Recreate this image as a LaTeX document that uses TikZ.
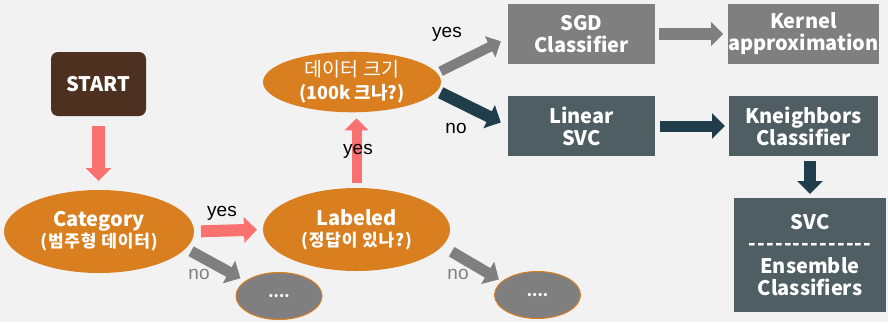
\documentclass[tikz,border=0pt]{standalone}
\usepackage{fontspec}
\setmainfont{Noto Sans CJK KR}
\newfontfamily\yesnofont{Liberation Sans}
\usetikzlibrary{arrows.meta,shapes.geometric}

\definecolor{canvas}{RGB}{242,242,242}
\definecolor{startbrown}{RGB}{78,48,32}
\definecolor{pinkarrow}{RGB}{250,114,112}
\definecolor{ochre}{RGB}{217,127,32}
\definecolor{midgray}{RGB}{127,127,127}
\definecolor{slate}{RGB}{79,94,99}
\definecolor{navy}{RGB}{31,61,75}

% a row of separate hyphens (kept apart so no dash ligature forms)
\newcommand\onehyphen{\mbox{-}\kern1.2pt}
\newcommand\hyphenrow{\onehyphen\onehyphen\onehyphen\onehyphen\onehyphen\onehyphen\onehyphen\onehyphen\onehyphen\onehyphen\onehyphen\onehyphen\onehyphen\mbox{-}}
% Korean sub-lines, slightly spaced out
\newcommand\koline[1]{{\fontsize{17}{20}\selectfont\addfontfeature{LetterSpace=5}#1}}

\begin{document}
\begin{tikzpicture}[x=1pt,y=-1pt,
  every node/.style={inner sep=0pt, outer sep=0pt},
  engfont/.style={font=\bfseries\fontsize{20}{22}\selectfont},
  startbox/.style={rectangle, rounded corners=7pt, fill=startbrown, text=white,
    minimum width=95pt, minimum height=64pt, engfont},
  decision/.style={ellipse, fill=ochre, text=white, align=center, engfont},
  dotsnode/.style={ellipse, fill=midgray, draw=ochre, line width=1pt, text=white,
    minimum width=86pt, minimum height=47pt, font=\bfseries\fontsize{15}{15}\selectfont},
  algobox/.style={rectangle, text=white, align=center, engfont,
    minimum width=147pt, minimum height=60pt},
  yesno/.style={font=\yesnofont\fontsize{19}{19}\selectfont},
  blockarrow/.style={line width=#1, -{Triangle[length=13pt,width=25pt]}},
  blockarrow/.default=12pt
]
\fill[canvas] (0,0) rectangle (888,322);
\useasboundingbox (0,0) rectangle (888,322);

% start and decisions
\node[startbox] (start) at (98.5,84) {START};
\node[decision, minimum width=190pt, minimum height=83pt] (cat) at (99,231.5)
  {Category\\[-1pt]\koline{(범주형 데이터)}};
\node[decision, minimum width=187pt, minimum height=83pt] (lab) at (356.5,229.5)
  {Labeled\\[-1pt]\koline{(정답이 있나?)}};
\node[decision, minimum width=178pt, minimum height=58pt] (size) at (352,82)
  {{\mdseries\fontsize{19.5}{20}\selectfont 데이터 크기}\\[1pt]{\fontsize{18}{20}\selectfont(100k 크나?)}};
\node[dotsnode] (dotsA) at (279,296) {....};
\node[dotsnode] (dotsB) at (537.5,295) {....};

% estimators
\node[algobox, fill=midgray] (sgd) at (581.5,34) {SGD\\Classifier};
\node[algobox, fill=midgray, minimum width=149pt] (kernel) at (803.5,34) {Kernel\\approximation};
\node[algobox, fill=slate] (linear) at (581.5,126) {Linear\\SVC};
\node[algobox, fill=slate, minimum width=149pt] (kneigh) at (803.5,126) {Kneighbors\\Classifier};
\node[algobox, fill=slate, minimum width=152pt, minimum height=114pt] (svc) at (810,255)
  {SVC\\[-1pt]\hyphenrow\\[1pt]Ensemble\\Classifiers};

% connectors
\draw[blockarrow=13pt, pinkarrow, shorten <=10pt, shorten >=9pt] (start.south) -- (start.south |- cat.north);
\draw[blockarrow, pinkarrow, shorten <=7pt, shorten >=6pt] (cat.east) -- (lab.west);
\draw[blockarrow=10pt, pinkarrow, -{Triangle[length=12pt,width=23pt]}, shorten <=5pt, shorten >=6pt]
  (lab.north) -- (lab.north |- size.south);
\draw[blockarrow=11pt, midgray, shorten <=6pt, shorten >=6pt] (cat.-11) -- (dotsA.156);
\draw[blockarrow=11pt, midgray, shorten <=11pt, shorten >=4pt] (lab.-11) -- (dotsB.159);
\draw[blockarrow=10pt, midgray, -{Triangle[length=12pt,width=23pt]}, shorten <=4pt, shorten >=8pt]
  (size.6) -- (sgd.183);
\draw[blockarrow, navy, shorten <=4pt, shorten >=8pt] (size.-6) -- (linear.west);
\draw[blockarrow, midgray, -{Triangle[length=12pt,width=23pt]}, shorten <=4pt, shorten >=5pt]
  (sgd.east) -- (kernel.west);
\draw[blockarrow=11pt, navy, shorten <=5pt, shorten >=4pt] (linear.east) -- (kneigh.west);
\draw[blockarrow, navy, shorten <=5pt, shorten >=4pt] (svc.north |- kneigh.south) -- (svc.north);

% branch labels
\node[yesno] (yesA) at (222,213) {yes};
\node[yesno, text=midgray] (noA) at (199,274) {no};
\node[yesno] (yesB) at (358,151) {yes};
\node[yesno, text=midgray] (noB) at (458,274) {no};
\node[yesno] (yesC) at (447,34) {yes};
\node[yesno] (noC) at (456,128) {no};
\end{tikzpicture}
\end{document}
